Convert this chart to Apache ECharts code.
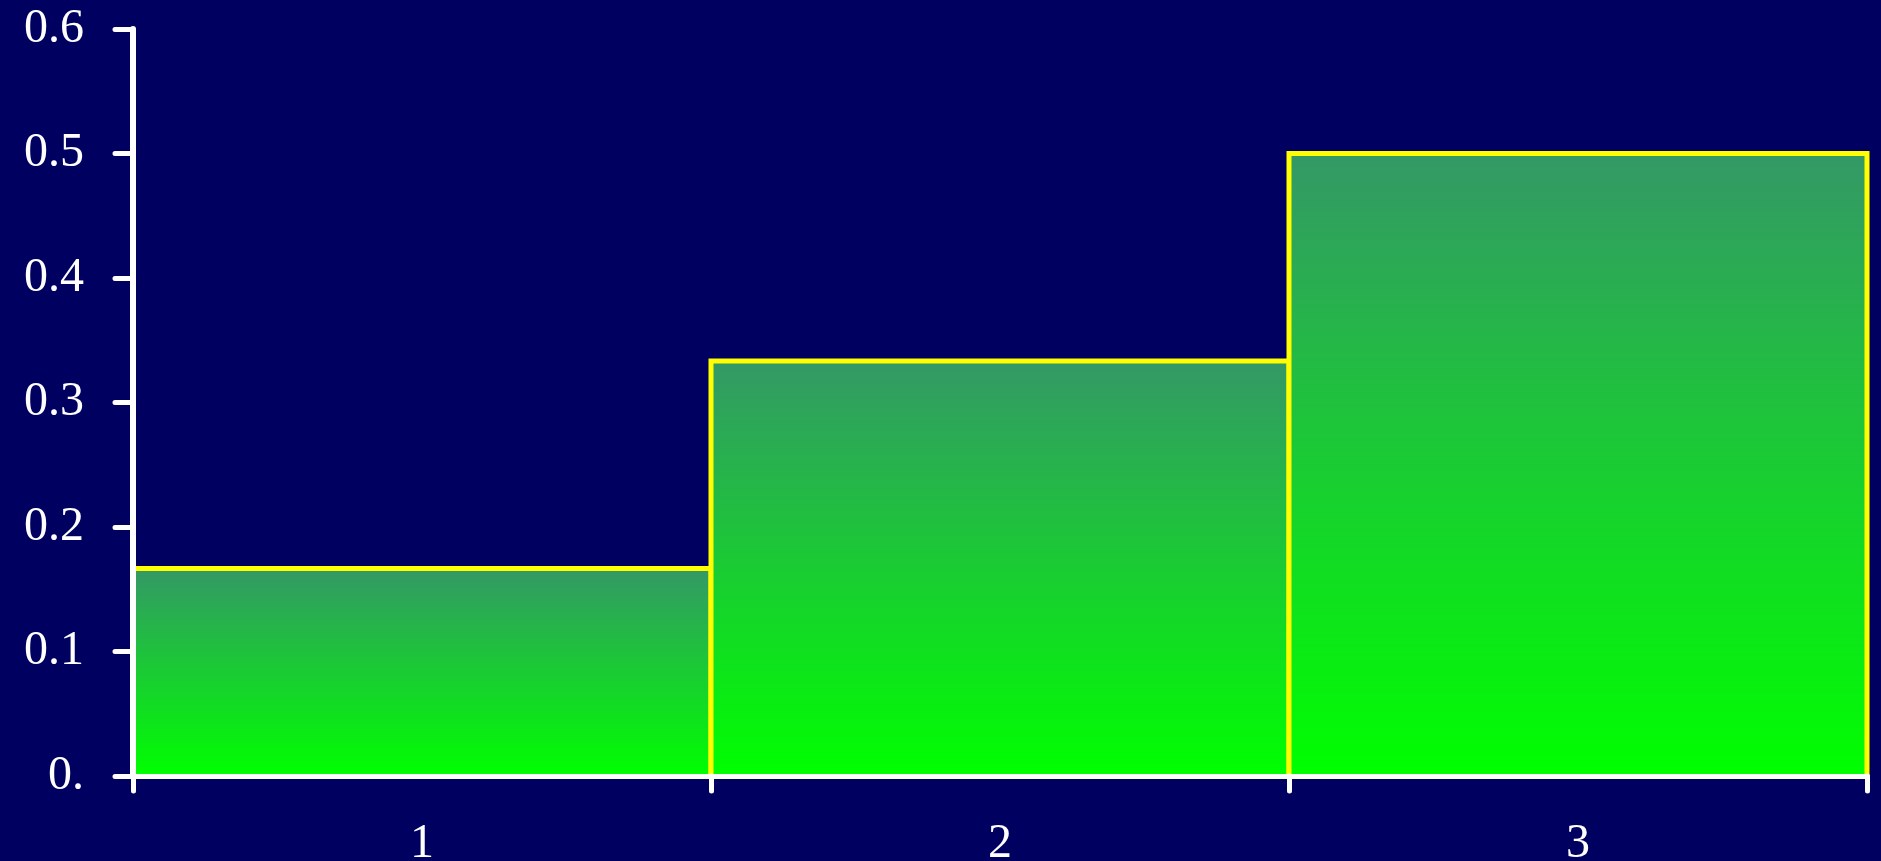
<!DOCTYPE html>
<html>
<head>
<meta charset="utf-8">
<script src="https://cdn.jsdelivr.net/npm/echarts@6/dist/echarts.min.js"></script>
<style>
html,body{margin:0;padding:0;background:#000060;}
#chart{width:1881px;height:861px;}
</style>
</head>
<body>
<div id="chart"></div>
<script>
const categories = ["1", "2", "3"];
const values = [0.1667, 0.3333, 0.5];
const yTicks = ["0.", "0.1", "0.2", "0.3", "0.4", "0.5", "0.6"];

const chart = echarts.init(document.getElementById('chart'));
chart.setOption({
  backgroundColor: '#000060',
  animation: false,
  grid: {left: 133, right: 14, top: 29, bottom: 85, containLabel: false, outerBoundsMode: 'none'},
  xAxis: {
    type: 'category',
    data: categories,
    boundaryGap: true,
    z: 10,
    axisLine: {lineStyle: {color: '#ffffff', width: 5}},
    axisTick: {show: true, length: 15, lineStyle: {color: '#ffffff', width: 5, cap: 'round'}},
    axisLabel: {color: '#ffffff', fontFamily: '"Liberation Serif", "Times New Roman", serif', fontSize: 48, margin: 44}
  },
  yAxis: {
    type: 'value',
    min: 0, max: 0.6, interval: 0.1,
    z: 10,
    splitLine: {show: false},
    axisLine: {show: true, lineStyle: {color: '#ffffff', width: 6}},
    axisTick: {show: true, length: 18, lineStyle: {color: '#ffffff', width: 5, cap: 'round'}},
    axisLabel: {
      color: '#ffffff', fontFamily: '"Liberation Serif", "Times New Roman", serif', fontSize: 48, margin: 49,
      formatter: function (v) { return yTicks[Math.round(v * 10)]; }
    }
  },
  series: [{
    type: 'custom',
    data: values.map(function (v, i) { return [i, v]; }),
    encode: {x: 0, y: 1},
    renderItem: function (params, api) {
      const i = api.value(0);
      const v = api.value(1);
      const top = api.coord([i, v]);
      const base = api.coord([i, 0]);
      const w = api.size([1, 0])[0];
      const x0 = top[0] - w / 2, x1 = top[0] + w / 2;
      return {
        type: 'group',
        children: [{
          type: 'rect',
          shape: {x: x0, y: top[1], width: w, height: base[1] - top[1]},
          style: {
            fill: new echarts.graphic.LinearGradient(0, 0, 0, 1, [
              {offset: 0, color: '#349866'},
              {offset: 1, color: '#00ff00'}
            ])
          }
        }, {
          type: 'polyline',
          shape: {points: [[x0, base[1]], [x0, top[1]], [x1, top[1]], [x1, base[1]]]},
          style: {stroke: '#ffff00', lineWidth: 5, fill: null, lineJoin: 'miter'}
        }]
      };
    }
  }]
});
</script>
</body>
</html>
